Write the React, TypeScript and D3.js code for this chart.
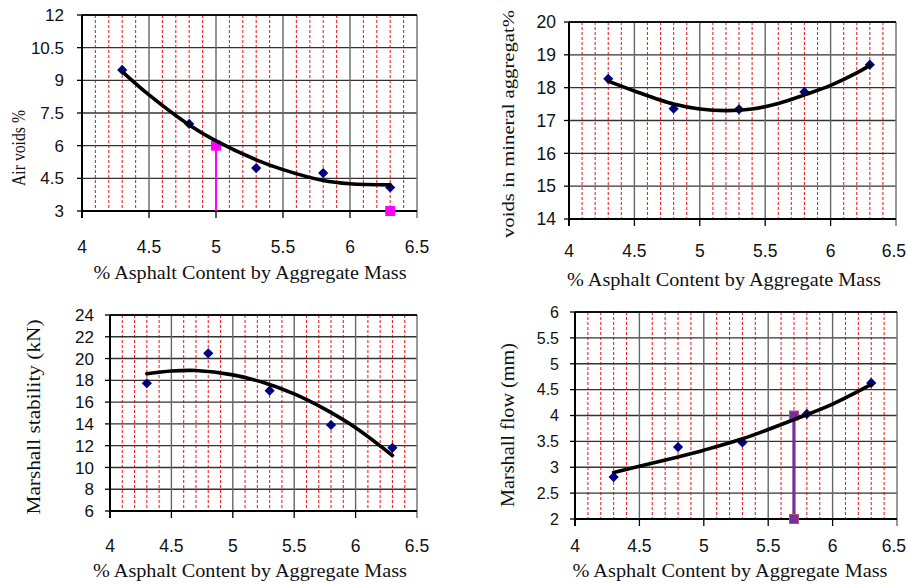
import React from "react";
import * as d3 from "d3";

// ---------- data ----------
const asphalt = [4.3, 4.8, 5.3, 5.8, 6.3];
const xTicks = [4, 4.5, 5, 5.5, 6, 6.5];
const xMinor = [4.1, 4.2, 4.3, 4.4, 4.6, 4.7, 4.8, 4.9, 5.1, 5.2, 5.3, 5.4, 5.6, 5.7, 5.8, 5.9, 6.1, 6.2, 6.3, 6.4];

const airVoids = [9.48, 7.0, 4.97, 4.74, 4.08];
const airVoidsFitX = [4.3, 4.5, 4.8, 5.0, 5.3, 5.5, 5.8, 6.0, 6.3];
const airVoidsFitY = [9.4, 8.33, 6.95, 6.22, 5.35, 4.9, 4.4, 4.25, 4.2];
const airTicks = [3, 4.5, 6, 7.5, 9, 10.5, 12];
const airMarkX = [5.0, 6.3];
const airMarkY = [6, 3];

const vma = [18.27, 17.36, 17.34, 17.87, 18.7];
const vmaFitX = [4.3, 4.5, 4.8, 5.0, 5.2, 5.4, 5.6, 5.8, 6.0, 6.2, 6.3];
const vmaFitY = [18.2, 17.9, 17.5, 17.35, 17.3, 17.35, 17.52, 17.78, 18.07, 18.45, 18.68];
const vmaTicks = [14, 15, 16, 17, 18, 19, 20];

const stability = [17.73, 20.48, 17.05, 13.9, 11.8];
const stabFitX = [4.3, 4.5, 4.7, 5.0, 5.25, 5.5, 5.75, 6.0, 6.3];
const stabFitY = [18.6, 18.85, 18.9, 18.5, 17.8, 16.75, 15.35, 13.65, 11.1];
const stabTicks = [6, 8, 10, 12, 14, 16, 18, 20, 22, 24];

const flow = [2.81, 3.39, 3.48, 4.03, 4.63];
const flowFitX = [4.3, 4.8, 5.0, 5.3, 5.7, 6.0, 6.3];
const flowFitY = [2.9, 3.2, 3.33, 3.55, 3.92, 4.22, 4.6];
const flowTicks = [2, 2.5, 3, 3.5, 4, 4.5, 5, 5.5, 6];
const flowMarkX = [5.7, 5.7];
const flowMarkY = [2, 4];

const xTitle = "% Asphalt Content by Aggregate Mass";

type PanelCfg = {
  box: { l: number; r: number; t: number; b: number };
  yTicks: number[];
  ys: number[];
  fitX: number[];
  fitY: number[];
  yTitle: string;
  yTitleX: number;
  yTitleY: number;
  yTitleLen: number;
  yTitleSize: number;
  yTickRight: number;
  yTickSize: number;
  xTickBase: number;
  xTickSize: number;
  xTitleBase: number;
  xTitleCenter: number;
  xTitleLen: number;
  extra?: (x: d3.ScaleLinear<number, number>, y: d3.ScaleLinear<number, number>) => React.ReactNode;
};

const SANS = "'Liberation Sans', Arial, sans-serif";
const SERIF = "'Liberation Serif', 'Times New Roman', serif";

function Panel({ c }: { c: PanelCfg }) {
  const { box } = c;
  const x = d3.scaleLinear().domain([4, 6.5]).range([box.l, box.r]);
  const y = d3
    .scaleLinear()
    .domain([c.yTicks[0], c.yTicks[c.yTicks.length - 1]])
    .range([box.b, box.t]);
  const line = d3
    .line<number>()
    .x((_, i) => x(c.fitX[i]))
    .y((d) => y(d))
    .curve(d3.curveCatmullRom);
  const diamond = d3.symbol(d3.symbolSquare, 52)()!;
  const halfW = (c.xTickSize * 1.39) / 2;
  return (
    <g>
      {xMinor.map((v) => (
        <line key={"m" + v} x1={x(v)} x2={x(v)} y1={box.t} y2={box.b} stroke="#ff2020" strokeWidth={1.1} strokeDasharray="3,2" />
      ))}
      {c.yTicks.map((v) => (
        <line key={"h" + v} x1={box.l} x2={box.r} y1={y(v)} y2={y(v)} stroke="#333" strokeWidth={1.4} />
      ))}
      {xTicks.slice(1, -1).map((v) => (
        <line key={"v" + v} x1={x(v)} x2={x(v)} y1={box.t} y2={box.b} stroke="#666" strokeWidth={1.4} />
      ))}
      <line x1={box.r} x2={box.r} y1={box.t} y2={box.b + 7} stroke="#777" strokeWidth={1.5} />
      <line x1={box.l} x2={box.r} y1={box.t} y2={box.t} stroke="#111" strokeWidth={2.2} />
      <line x1={box.l} x2={box.l} y1={box.t} y2={box.b + 7} stroke="#000" strokeWidth={2} />
      <line x1={box.l} x2={box.r} y1={box.b} y2={box.b} stroke="#000" strokeWidth={2.2} />
      {c.yTicks.map((v) => (
        <line key={"yt" + v} x1={box.l - 5} x2={box.l} y1={y(v)} y2={y(v)} stroke="#000" strokeWidth={1.3} />
      ))}
      {xTicks.slice(1, -1).map((v) => (
        <line key={"xt" + v} x1={x(v)} x2={x(v)} y1={box.b} y2={box.b + 7} stroke="#000" strokeWidth={1.3} />
      ))}
      {c.yTicks.map((v) => (
        <text key={"yl" + v} x={c.yTickRight} y={y(v)} dy="0.36em" textAnchor="end" fontFamily={SANS} fontSize={c.yTickSize} fill="#111">
          {String(v)}
        </text>
      ))}
      {xTicks.map((v) => (
        <text
          key={"xl" + v}
          x={Math.min(x(v), 906 - halfW)}
          y={c.xTickBase}
          textAnchor="middle"
          fontFamily={SANS}
          fontSize={c.xTickSize}
          fill="#111"
        >
          {String(v)}
        </text>
      ))}
      <text x={c.xTitleCenter} y={c.xTitleBase} textAnchor="middle" fontFamily={SERIF} fontSize={19} fill="#111" textLength={c.xTitleLen} lengthAdjust="spacingAndGlyphs">
        {xTitle}
      </text>
      <text
        transform={`translate(${c.yTitleX},${c.yTitleY}) rotate(-90)`}
        textAnchor="middle"
        fontFamily={SERIF}
        fontSize={c.yTitleSize}
        fill="#111"
        textLength={c.yTitleLen}
        lengthAdjust="spacingAndGlyphs"
      >
        {c.yTitle}
      </text>
      {c.extra ? c.extra(x, y) : null}
      {c.ys.map((v, i) => (
        <path key={"p" + i} d={diamond} transform={`translate(${x(asphalt[i])},${y(v)}) rotate(45)`} fill="#000080" />
      ))}
      <path d={line(c.fitY) || ""} fill="none" stroke="#000" strokeWidth={3.6} strokeLinecap="round" />
    </g>
  );
}

const panels: PanelCfg[] = [
  {
    box: { l: 82, r: 417, t: 15, b: 211 },
    yTicks: airTicks,
    ys: airVoids,
    fitX: airVoidsFitX,
    fitY: airVoidsFitY,
    yTitle: "Air voids %",
    yTitleX: 25,
    yTitleY: 148,
    yTitleLen: 76,
    yTitleSize: 18.5,
    yTickRight: 64,
    yTickSize: 17,
    xTickBase: 253,
    xTickSize: 17.5,
    xTitleBase: 279,
    xTitleCenter: 250,
    xTitleLen: 313,
    extra: (x, y) => (
      <g>
        <line x1={x(airMarkX[0])} x2={x(airMarkX[0])} y1={y(3)} y2={y(airMarkY[0])} stroke="#ff00ff" strokeWidth={2} />
        {airMarkX.map((v, i) => (
          <rect key={i} x={x(v) - 5} y={y(airMarkY[i]) - 5} width={10} height={10} fill="#ff00ff" />
        ))}
      </g>
    ),
  },
  {
    box: { l: 569, r: 896, t: 22, b: 219 },
    yTicks: vmaTicks,
    ys: vma,
    fitX: vmaFitX,
    fitY: vmaFitY,
    yTitle: "voids in mineral aggregat%",
    yTitleX: 514,
    yTitleY: 124,
    yTitleLen: 228,
    yTitleSize: 17.5,
    yTickRight: 556,
    yTickSize: 17.5,
    xTickBase: 257,
    xTickSize: 17.5,
    xTitleBase: 286,
    xTitleCenter: 724,
    xTitleLen: 314,
  },
  {
    box: { l: 110, r: 417, t: 315, b: 511 },
    yTicks: stabTicks,
    ys: stability,
    fitX: stabFitX,
    fitY: stabFitY,
    yTitle: "Marshall stability (kN)",
    yTitleX: 40,
    yTitleY: 417,
    yTitleLen: 195,
    yTitleSize: 19,
    yTickRight: 94,
    yTickSize: 17,
    xTickBase: 552,
    xTickSize: 17.5,
    xTitleBase: 577,
    xTitleCenter: 250,
    xTitleLen: 314,
  },
  {
    box: { l: 575, r: 897, t: 312, b: 519 },
    yTicks: flowTicks,
    ys: flow,
    fitX: flowFitX,
    fitY: flowFitY,
    yTitle: "Marshall flow (mm)",
    yTitleX: 514,
    yTitleY: 425,
    yTitleLen: 164,
    yTitleSize: 19,
    yTickRight: 559,
    yTickSize: 16,
    xTickBase: 552,
    xTickSize: 17.5,
    xTitleBase: 577,
    xTitleCenter: 730,
    xTitleLen: 315,
    extra: (x, y) => (
      <g>
        <line x1={x(flowMarkX[0])} x2={x(flowMarkX[1])} y1={y(flowMarkY[0])} y2={y(flowMarkY[1])} stroke="#7030a0" strokeWidth={3.2} />
        {flowMarkX.map((v, i) => (
          <rect key={i} x={x(v) - 4.5} y={y(flowMarkY[i]) - 4.5} width={9} height={9} fill="#7030a0" stroke="#c0506a" strokeWidth={1} />
        ))}
      </g>
    ),
  },
];

export default function App() {
  return (
    <svg
      width={908}
      height={585}
      viewBox="0 0 908 585"
      style={{ position: "absolute", left: 0, top: 0, background: "#fff" }}
    >
      <rect width={908} height={585} fill="#fff" />
      {panels.map((p, i) => (
        <Panel key={i} c={p} />
      ))}
    </svg>
  );
}
